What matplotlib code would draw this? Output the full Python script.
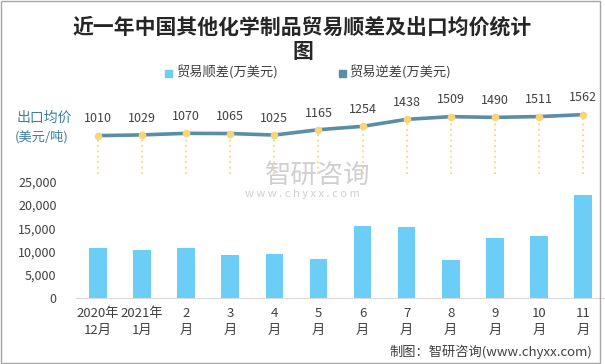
import matplotlib
matplotlib.use("Agg")
import matplotlib.pyplot as plt
from matplotlib.patches import Rectangle

plt.rcParams['font.family'] = ['Noto Sans CJK SC', 'DejaVu Sans']

# data
months = ["2020年\n12月", "2021年\n1月", "2\n月", "3\n月", "4\n月", "5\n月",
          "6\n月", "7\n月", "8\n月", "9\n月", "10\n月", "11\n月"]
surplus = [10800, 10400, 10800, 9300, 9500, 8400, 15500, 15300, 8200, 12900, 13400, 22100]
price = [1010, 1029, 1070, 1065, 1025, 1165, 1254, 1438, 1509, 1490, 1511, 1562]

W, H = 605, 364
bar_color = "#6CCEF6"
line_color = "#5B8DA6"
dot_color = "#F9D57A"
text_color = "#404040"

fig = plt.figure(figsize=(W / 100, H / 100), dpi=100)

def px(x0, y_top, w, h):
    # pixel box (top-left origin) -> figure fraction
    return [x0 / W, 1 - (y_top + h) / H, w / W, h / H]

# bars
ax = fig.add_axes(px(76, 181.7, 529, 116.6))
x = list(range(len(months)))
ax.bar(x, surplus, width=0.4, color=bar_color, zorder=2)
ax.set_xlim(-0.5, 11.5)
ax.set_ylim(0, 25000)
ax.set_yticks(range(0, 25001, 5000))
ax.set_yticklabels([f"{v:,}" for v in range(0, 25001, 5000)], fontsize=9, color=text_color)
ax.set_xticks(x)
ax.set_xticklabels(months, fontsize=9.5, color=text_color, linespacing=1.45)
ax.tick_params(axis="y", length=0, pad=14)
ax.tick_params(axis="x", length=0, pad=6)
for s in ["top", "right", "left"]:
    ax.spines[s].set_visible(False)
ax.spines["bottom"].set_color("#D9D9D9")

# price line
ax2 = fig.add_axes(px(76, 98, 529, 76))
ax2.set_xlim(-0.5, 11.5)
ax2.set_ylim(0, 2000)
ax2.vlines(x, 0, price, colors=dot_color, linestyles=(0, (1, 2)), lw=1.3, zorder=1)
ax2.plot(x, price, color=line_color, lw=2.6, zorder=2)
ax2.plot(x, price, "o", color=dot_color, ms=4.5, zorder=3)
for xi, p in zip(x, price):
    ax2.annotate(str(p), (xi, p), xytext=(0, 12), textcoords="offset points",
                 ha="center", va="center", fontsize=9, color=text_color)
ax2.axis("off")

# left label for price
fig.text(17 / W, 1 - 118 / H, "出口均价", color="#3F7FA3", fontsize=10, ha="left", va="center")
fig.text(15 / W, 1 - 137 / H, "(美元/吨)", color="#3F7FA3", fontsize=9.5, ha="left", va="center")

# title
fig.text(0.5, 1 - 27 / H, "近一年中国其他化学制品贸易顺差及出口均价统计",
         ha="center", va="center", fontsize=15, fontweight="bold", color="#262626")
fig.text(0.5, 1 - 51 / H, "图", ha="center", va="center", fontsize=15,
         fontweight="bold", color="#262626")

# legend
for lx, tx, c, lab in [(165, 176, bar_color, "贸易顺差(万美元)"),
                       (339, 349, line_color, "贸易逆差(万美元)")]:
    fig.add_artist(Rectangle((lx / W, 1 - 77 / H), 7 / W, 7 / H,
                             transform=fig.transFigure, color=c))
    fig.text(tx / W, 1 - 73 / H, lab, ha="left", va="center", fontsize=9.5, color=text_color)

# watermark
fig.text(318 / W, 1 - 175 / H, "智研咨询", ha="center", va="center",
         fontsize=19, color="#C4C4C4", alpha=0.8)
fig.text(302 / W, 1 - 194 / H, "w w w . c h y x x . c o m", ha="center", va="center",
         fontsize=8, color="#C4C4C4", alpha=0.8)

# source
fig.text(592 / W, 1 - 352 / H, "制图：智研咨询(www.chyxx.com)", ha="right", va="center",
         fontsize=9.5, color=text_color)

# border
fig.add_artist(Rectangle((0.001, 0.004), 0.99, 0.994, transform=fig.transFigure,
                         fill=False, edgecolor="#A6A6A6", lw=1))

fig.savefig("out.png", dpi=100)
